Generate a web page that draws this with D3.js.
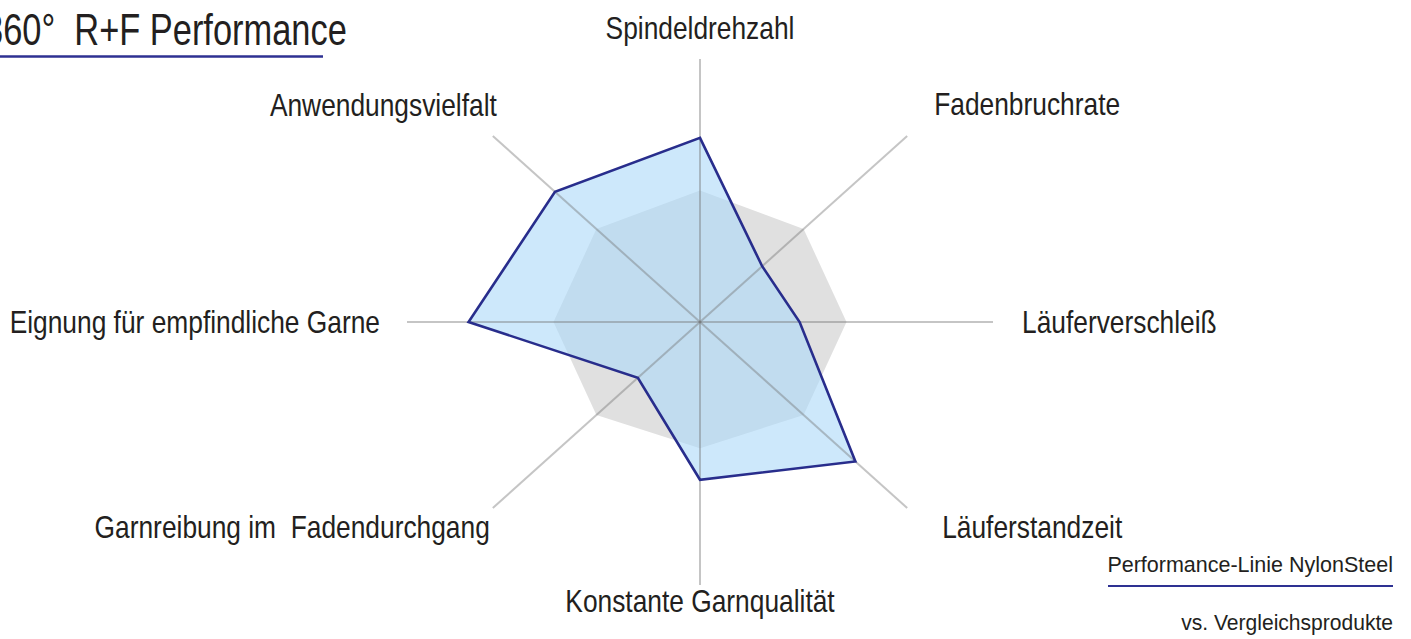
<!DOCTYPE html>
<html>
<head>
<meta charset="utf-8">
<script src="https://cdn.jsdelivr.net/npm/d3@7"></script>
<style>
  body { margin: 0; background: #fff; }
  text { font-family: "Liberation Sans", Arial, sans-serif; fill: #231f20; white-space: pre; }
</style>
</head>
<body>
<div id="chart"></div>
<script>
// axes, clockwise from the top
const axes = ["Spindeldrehzahl", "Fadenbruchrate", "Läuferverschleiß", "Läuferstandzeit",
              "Konstante Garnqualität", "Garnreibung im  Fadendurchgang", "Eignung für empfindliche Garne", "Anwendungsvielfalt"];
const nylonSteel = [0.70, 0.30, 0.34, 0.75, 0.60, 0.30, 0.79, 0.70];
const vergleich  = [0.50, 0.50, 0.50, 0.50, 0.48, 0.50, 0.50, 0.50];

const width = 1411, height = 639;
const cx = 700, cy = 322;
const radius = 263, stretch = 293 / 263;
const narrow = 0.85;   // condensed look of the labels

// label offsets from the spoke end (x, y)
const labelOffsets = [[0, -20], [27, -21], [29, 11], [35, 30], [0, 27], [-3, 30], [-27, 11], [4, -20]];

const svg = d3.select("#chart")
    .append("svg")
    .attr("width", width)
    .attr("height", height);

const rScale = d3.scaleLinear().domain([0, 1]).range([0, radius]);
const angle = d3.scaleLinear().domain([0, axes.length]).range([0, 2 * Math.PI]);

const radar = svg.append("g")
    .attr("transform", `translate(${cx},${cy}) scale(${stretch},1)`);

const line = d3.lineRadial()
    .angle((d, i) => angle(i))
    .radius(d => rScale(d))
    .curve(d3.curveLinearClosed);

// comparison products
radar.append("path")
    .datum(vergleich)
    .attr("d", line)
    .attr("fill", "#e0e0e0");

// NylonSteel fill
radar.append("path")
    .datum(nylonSteel)
    .attr("d", line)
    .attr("fill", "rgb(172,217,248)")
    .attr("fill-opacity", 0.6);

// spokes
radar.selectAll(".spoke")
    .data(axes)
    .enter()
    .append("line")
    .attr("class", "spoke")
    .attr("x1", 0).attr("y1", 0)
    .attr("x2", (d, i) => rScale(1) * Math.sin(angle(i)))
    .attr("y2", (d, i) => -rScale(1) * Math.cos(angle(i)))
    .attr("stroke", "rgb(110,110,110)")
    .attr("stroke-opacity", 0.4)
    .attr("stroke-width", 2)
    .attr("vector-effect", "non-scaling-stroke");

// NylonSteel outline
radar.append("path")
    .datum(nylonSteel)
    .attr("d", line)
    .attr("fill", "none")
    .attr("stroke", "#282d8c")
    .attr("stroke-width", 2.6)
    .attr("stroke-linejoin", "miter")
    .attr("vector-effect", "non-scaling-stroke");

// axis labels
svg.selectAll(".axis-label")
    .data(axes)
    .enter()
    .append("text")
    .attr("class", "axis-label")
    .attr("transform", (d, i) => {
        const x = cx + stretch * rScale(1) * Math.sin(angle(i)) + labelOffsets[i][0];
        const y = cy - rScale(1) * Math.cos(angle(i)) + labelOffsets[i][1];
        return `translate(${x},${y}) scale(${narrow},1)`;
    })
    .attr("text-anchor", (d, i) => {
        const s = Math.sin(angle(i));
        return s > 0.1 ? "start" : s < -0.1 ? "end" : "middle";
    })
    .style("font-size", "31px")
    .text(d => d);

// title
svg.append("text")
    .attr("transform", "translate(-16,45) scale(0.765,1)")
    .style("font-size", "45px")
    .text("360°  R+F Performance");
svg.append("line")
    .attr("x1", 0).attr("x2", 323)
    .attr("y1", 56.5).attr("y2", 56.5)
    .attr("stroke", "#2e3192")
    .attr("stroke-width", 2.5);

// legend
svg.append("text")
    .attr("transform", "translate(1393,572)")
    .attr("text-anchor", "end")
    .style("font-size", "21.5px")
    .text("Performance-Linie NylonSteel");
svg.append("line")
    .attr("x1", 1108).attr("x2", 1393)
    .attr("y1", 586).attr("y2", 586)
    .attr("stroke", "#2e3192")
    .attr("stroke-width", 2.2);
svg.append("text")
    .attr("transform", "translate(1393,630) scale(0.98,1)")
    .attr("text-anchor", "end")
    .style("font-size", "21.5px")
    .text("vs. Vergleichsprodukte");
</script>
</body>
</html>
